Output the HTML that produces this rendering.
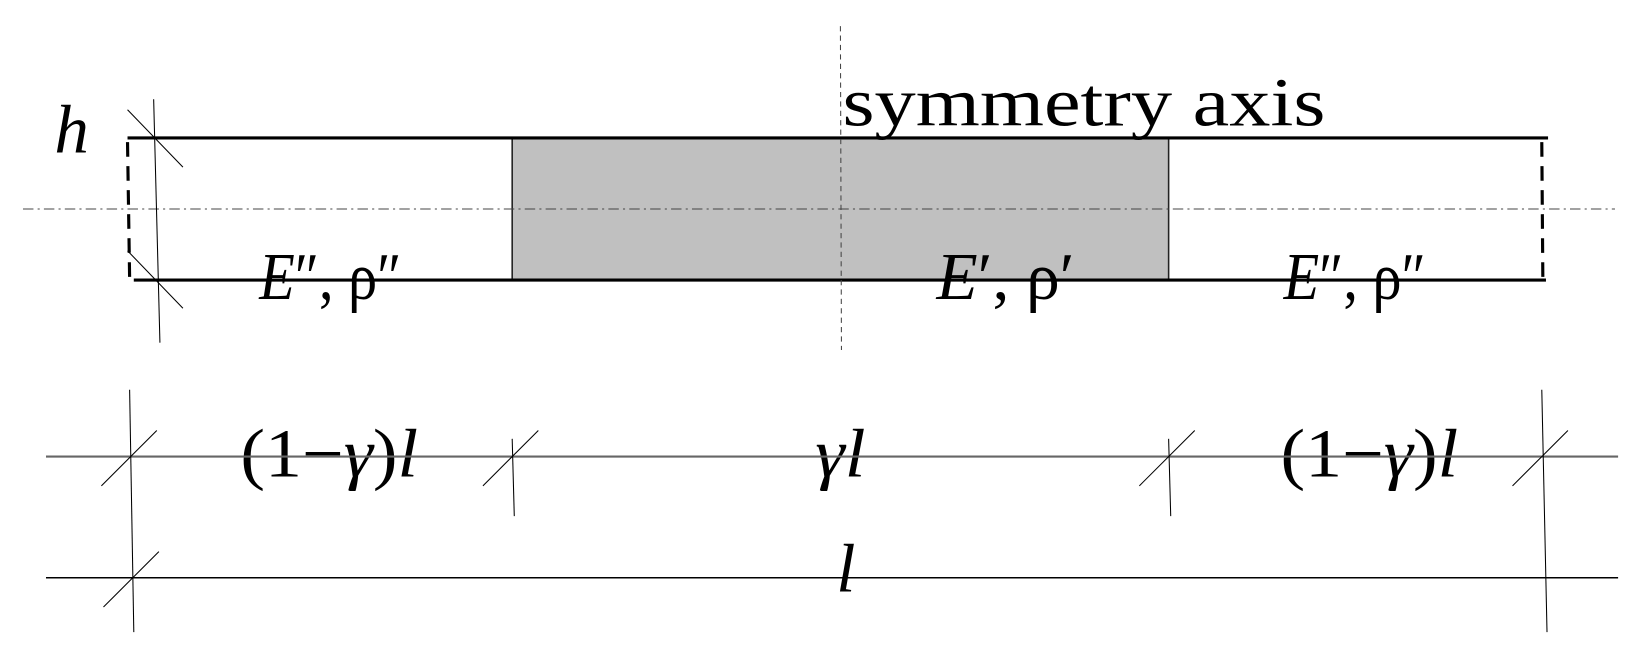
<!DOCTYPE html>
<html><head><meta charset="utf-8"><style>
html,body{margin:0;padding:0;background:#fff;}
svg{display:block;}
</style></head><body>
<svg width="1639" height="653" viewBox="0 0 1568 625" preserveAspectRatio="none" xmlns="http://www.w3.org/2000/svg">
<rect x="0" y="0" width="1568" height="625" fill="#fff"/>
<rect x="490" y="132" width="628" height="136" fill="#c0c0c0" stroke="#222" stroke-width="1.5"/>
<line x1="122" y1="132" x2="1481" y2="132" stroke="#000" stroke-width="3"/>
<line x1="128" y1="268" x2="1479" y2="268" stroke="#000" stroke-width="3"/>
<line x1="122" y1="136" x2="124" y2="266" stroke="#000" stroke-width="3" stroke-dasharray="14,9"/>
<line x1="1475" y1="136" x2="1476" y2="266" stroke="#000" stroke-width="3" stroke-dasharray="14,9"/>
<line x1="22" y1="200" x2="1545" y2="200" stroke="#444" stroke-width="1" stroke-dasharray="10,4,2,4"/>
<line x1="804" y1="25" x2="805" y2="335" stroke="#444" stroke-width="1" stroke-dasharray="5,4"/>
<line x1="147" y1="95" x2="153" y2="328" stroke="#000" stroke-width="1"/>
<line x1="122" y1="105" x2="175" y2="160" stroke="#000" stroke-width="1"/>
<line x1="122" y1="240" x2="175" y2="295" stroke="#000" stroke-width="1"/>
<g font-family="Liberation Serif, serif" fill="#000">
<text x="806" y="120" font-size="66" textLength="462" lengthAdjust="spacingAndGlyphs">symmetry axis</text>
<text x="52" y="146" font-size="66" font-style="italic">h</text>
<text x="248" y="286" font-size="64" textLength="136" lengthAdjust="spacingAndGlyphs"><tspan font-style="italic">E</tspan>″, ρ″</text>
<text x="896" y="286" font-size="64" textLength="132" lengthAdjust="spacingAndGlyphs"><tspan font-style="italic">E</tspan>′, ρ′</text>
<text x="1228" y="286" font-size="64" textLength="136" lengthAdjust="spacingAndGlyphs"><tspan font-style="italic">E</tspan>″, ρ″</text>
<text x="230" y="456" font-size="66" textLength="170" lengthAdjust="spacingAndGlyphs">(1−<tspan font-style="italic">γ</tspan>)<tspan font-style="italic">l</tspan></text>
<text x="780" y="456" font-size="66" textLength="48" lengthAdjust="spacingAndGlyphs"><tspan font-style="italic">γl</tspan></text>
<text x="1225" y="456" font-size="66" textLength="170" lengthAdjust="spacingAndGlyphs">(1−<tspan font-style="italic">γ</tspan>)<tspan font-style="italic">l</tspan></text>
<text x="800" y="566" font-size="66" font-style="italic">l</text>
</g>
<line x1="44" y1="437" x2="1548" y2="437" stroke="#666" stroke-width="2"/>
<line x1="44" y1="553" x2="1548" y2="553" stroke="#000" stroke-width="1.5"/>
<line x1="124" y1="373" x2="128" y2="605" stroke="#000" stroke-width="1"/>
<line x1="1475" y1="373" x2="1480" y2="605" stroke="#000" stroke-width="1"/>
<line x1="490" y1="420" x2="492" y2="494" stroke="#000" stroke-width="1"/>
<line x1="1118" y1="420" x2="1120" y2="494" stroke="#000" stroke-width="1"/>
<line x1="97" y1="465" x2="150" y2="412" stroke="#000" stroke-width="1"/>
<line x1="462" y1="465" x2="515" y2="412" stroke="#000" stroke-width="1"/>
<line x1="1090" y1="465" x2="1143" y2="412" stroke="#000" stroke-width="1"/>
<line x1="1447" y1="465" x2="1500" y2="412" stroke="#000" stroke-width="1"/>
<line x1="99" y1="581" x2="152" y2="528" stroke="#000" stroke-width="1"/>
</svg>
</body></html>
